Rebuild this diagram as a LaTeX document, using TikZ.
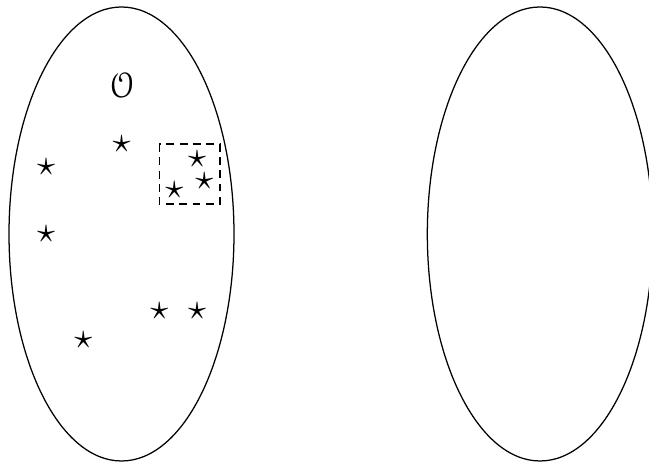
\documentclass[tikz,border=0pt]{standalone}
\usepackage{amsmath}
\usepackage[mathcal]{eucal}
\usepackage{tikz}
\tikzset{pt/.style={inner sep=0pt,outer sep=0pt},set/.style={line width=.35pt}}

\begin{document}
\begin{tikzpicture}[x=0.2778pt,y=-0.2778pt]
  \useasboundingbox(0,0) rectangle (649,462);
  \clip(0,0) rectangle (649,462);
  % the two sets
  \draw[set](121.5,234) ellipse [x radius=31.25pt, y radius=63.06pt];
  \draw[set](540,234) ellipse [x radius=31.3pt, y radius=63.06pt];
  \node[pt](O) at (122,85) {$\mathcal{O}$};
  % points
  \foreach \name/\x/\y in {a/121.7/144,b/46/166.7,c/46/234.3,d/83.3/340,e/159.3/310.7,f/197/310.7,g/197/159.3,h/204.3/181,i/174.3/190}
    \node[pt](\name) at (\x,\y) {$\star$};
  \draw[dash pattern=on 2.2pt off 1.5pt,line width=.35pt](159.3,144) rectangle (220,204);
\end{tikzpicture}
\end{document}
